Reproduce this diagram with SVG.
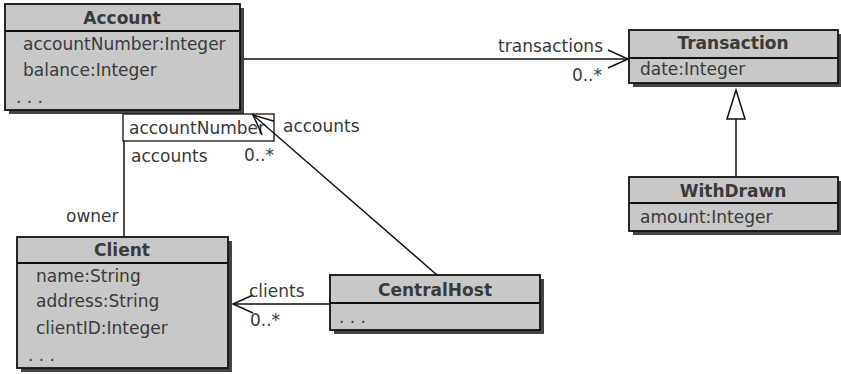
<svg xmlns="http://www.w3.org/2000/svg" width="841" height="374" viewBox="0 0 841 374">
<defs>
<style>
.shadow{fill:#444}
.box{fill:#c8c8c8;stroke:#111;stroke-width:1.8}
.div{stroke:#111;stroke-width:1.8}
text{font-family:"DejaVu Sans","Liberation Sans",sans-serif;font-size:17px;fill:#3a3a3a}
.title{font-weight:bold;text-anchor:middle}
.line{stroke:#111;stroke-width:1.5;fill:none}
.end{text-anchor:end}
</style>
<marker id="open" markerUnits="userSpaceOnUse" markerWidth="24" markerHeight="24" viewBox="-22 -12 24 24" refX="0" refY="0" orient="auto">
<path d="M-20,-9 L0,0 L-20,9" fill="none" stroke="#111" stroke-width="1.5"/>
</marker>
</defs>
<rect width="841" height="374" fill="#fff"/>

<g id="Account">
<rect class="shadow" x="9" y="8" width="235" height="106"/>
<rect class="box" x="5" y="4" width="235" height="106"/>
<line class="div" x1="5" y1="31" x2="240" y2="31"/>
<text class="title" x="122" y="24">Account</text>
<text x="23" y="50">accountNumber:Integer</text>
<text x="23" y="76">balance:Integer</text>
<text x="16" y="103">. . .</text>
</g>

<g id="qualifier">
<rect x="123" y="114" width="151" height="27" fill="#fff" stroke="#111" stroke-width="1.3"/>
<text x="129" y="134">accountNumber</text>
</g>

<g id="Transaction">
<rect class="shadow" x="633" y="34" width="209" height="53"/>
<rect class="box" x="629" y="30" width="209" height="53"/>
<line class="div" x1="629" y1="58" x2="838" y2="58"/>
<text class="title" x="733" y="49">Transaction</text>
<text x="640" y="75">date:Integer</text>
</g>

<g id="WithDrawn">
<rect class="shadow" x="633" y="181" width="209" height="54"/>
<rect class="box" x="629" y="177" width="209" height="54"/>
<line class="div" x1="629" y1="203" x2="838" y2="203"/>
<text class="title" x="733" y="197">WithDrawn</text>
<text x="640" y="223">amount:Integer</text>
</g>

<g id="Client">
<rect class="shadow" x="21" y="241" width="211" height="131"/>
<rect class="box" x="17" y="237" width="211" height="131"/>
<line class="div" x1="17" y1="263" x2="228" y2="263"/>
<text class="title" x="122" y="256">Client</text>
<text x="36" y="282">name:String</text>
<text x="36" y="307">address:String</text>
<text x="36" y="334">clientID:Integer</text>
<text x="28" y="361">. . .</text>
</g>

<g id="CentralHost">
<rect class="shadow" x="334" y="279" width="210" height="55"/>
<rect class="box" x="330" y="275" width="210" height="55"/>
<line class="div" x1="330" y1="303" x2="540" y2="303"/>
<text class="title" x="435" y="296">CentralHost</text>
<text x="339" y="323">. . .</text>
</g>

<g id="connectors">
<line class="line" x1="244" y1="59" x2="628" y2="59" marker-end="url(#open)"/>
<line class="line" x1="124" y1="141" x2="124" y2="237"/>
<line class="line" x1="437" y1="275" x2="253" y2="115" marker-end="url(#open)"/>
<line class="line" x1="330" y1="304" x2="233" y2="304" marker-end="url(#open)"/>
<line class="line" x1="736" y1="177" x2="736" y2="119"/>
<path d="M736,90 L745,119 L727,119 Z" fill="#fff" stroke="#111" stroke-width="1.5"/>
<text class="end" x="603" y="52">transactions</text>
<text class="end" x="602" y="81">0..*</text>
<text x="131" y="162">accounts</text>
<text x="244" y="161">0..*</text>
<text x="283" y="132">accounts</text>
<text x="66" y="222">owner</text>
<text x="249" y="297">clients</text>
<text x="250" y="326">0..*</text>
</g>
</svg>
